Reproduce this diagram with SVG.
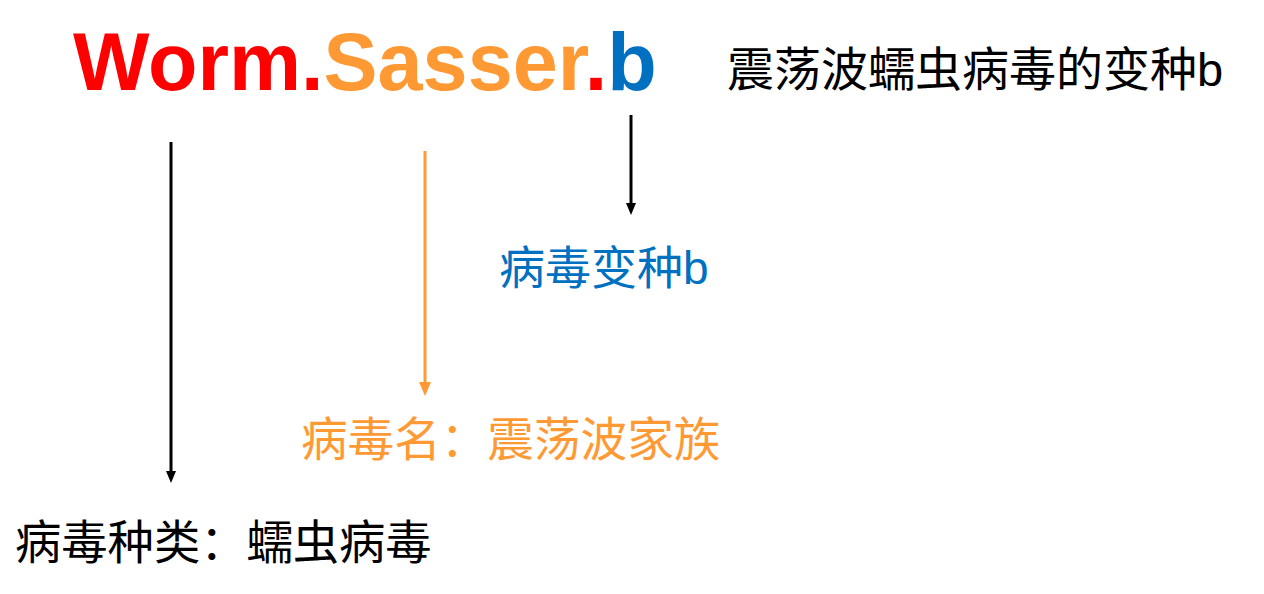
<svg xmlns="http://www.w3.org/2000/svg" width="1264" height="594" viewBox="0 0 1264 594">
<style>
.cjk{font-family:"Liberation Sans","Noto Sans CJK SC",sans-serif;}
.title{font-family:"Liberation Sans",Arial,sans-serif;font-weight:bold;font-size:81px;}
.blk{stroke:#000;stroke-width:3;fill:none;}
.org{stroke:#FF9933;stroke-width:3;fill:none;}
</style>
<defs>
<marker id="ab" viewBox="0 0 12 10" refX="2" refY="5" markerWidth="12" markerHeight="10" markerUnits="userSpaceOnUse" orient="auto">
<path d="M0,0 L12,5 L0,10 Z" fill="#000"/>
</marker>
<marker id="ao" viewBox="0 0 14 12" refX="2" refY="6" markerWidth="14" markerHeight="12" markerUnits="userSpaceOnUse" orient="auto">
<path d="M0,0 L14,6 L0,12 Z" fill="#FF9933"/>
</marker>
</defs>
<rect width="1264" height="594" fill="#fff"/>
<g id="title">
<text class="title" x="73" y="90"><tspan fill="#FF0000">Worm.</tspan><tspan fill="#FF9933">Sasser</tspan><tspan fill="#FF0000">.</tspan><tspan fill="#0070C0">b</tspan></text>
</g>
<g id="desc">
<text class="cjk" x="727" y="86" font-size="47" fill="#000">震荡波蠕虫病毒的变种b</text>
</g>
<g id="variant">
<text class="cjk" x="499" y="284" font-size="46" fill="#0070C0">病毒变种b</text>
</g>
<g id="family">
<text class="cjk" x="301" y="456" font-size="46.6" fill="#FF9933">病毒名：震荡波家族</text>
</g>
<g id="type">
<text class="cjk" x="15" y="559" font-size="46.3" fill="#000">病毒种类：蠕虫病毒</text>
</g>
<g id="connectors">
<line class="blk" x1="171" y1="142" x2="171" y2="473" marker-end="url(#ab)"/>
<line class="org" x1="425" y1="151" x2="425" y2="384" marker-end="url(#ao)"/>
<line class="blk" x1="631" y1="115" x2="631" y2="205" marker-end="url(#ab)"/>
</g>
</svg>
